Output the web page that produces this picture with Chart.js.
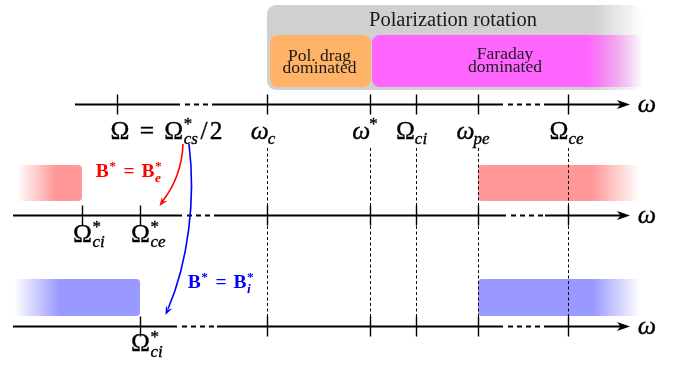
<!DOCTYPE html>
<html>
<head>
<meta charset="utf-8">
<script src="https://cdn.jsdelivr.net/npm/chart.js@4/dist/chart.umd.min.js"></script>
<style>
  html, body { margin: 0; padding: 0; background: #fff; }
  canvas { display: block; }
</style>
</head>
<body>
<canvas id="c" width="677" height="373"></canvas>
<script>
// Ordering of the characteristic frequencies along the ω axis (schematic units)
const sharedFreqs  = [267, 370, 416, 478, 568];
const sharedLabels = ['ω_{c}', 'ω^{*}', 'Ω_{ci}', 'ω_{pe}', 'Ω_{ce}'];

// Top axis: real plasma; middle: B* = B*_e; bottom: B* = B*_i
const topFreqs  = [117, ...sharedFreqs];
const topLabels = ['Ω = Ω^{*}_{cs}/2', ...sharedLabels];
const midFreqs  = [82, 140, ...sharedFreqs];
const midLabels = ['Ω^{*}_{ci}', 'Ω^{*}_{ce}'];
const botFreqs  = [140, ...sharedFreqs];
const botLabels = ['Ω^{*}_{ci}'];

// Rotation regimes above the top axis
const regimeNames = ['Polarization rotation', 'Pol. drag\ndominated', 'Faraday\ndominated'];
const regimeFrom  = [267, 267, 370];
const regimeTo    = [643, 370, 643];

// Frequency ranges marked on the rescaled axes
const stopBandsE = [[17, 82], [478, 640]];
const stopBandsI = [[14, 140], [478, 640]];

const mapLabelsE = ['B^{*} = B^{*}_{e}'];
const mapLabelsI = ['B^{*} = B^{*}_{i}'];

const SERIF = '"Liberation Serif", "DejaVu Serif", serif';

function parseMath(s) {
  const out = [];
  let i = 0;
  while (i < s.length) {
    const ch = s[i];
    if ((ch === '^' || ch === '_') && s[i + 1] === '{') {
      const j = s.indexOf('}', i);
      const txt = s.slice(i + 2, j);
      const last = out[out.length - 1];
      if (ch === '^') last.sup = txt; else last.sub = txt;
      i = j + 1;
    } else {
      out.push({ t: ch });
      i++;
    }
  }
  return out;
}

function fontFor(ch, size, bold) {
  const it = /[a-zω]/.test(ch);
  return (it ? 'italic ' : '') + (bold ? 'bold ' : '') + size + 'px ' + SERIF;
}

// extra side bearing (in em) for operators set in math mode
const PAD = { '/': 0.08 };

function strWidth(ctx, str, size, bold, space) {
  let w = 0;
  for (const ch of str) {
    if (ch === ' ') { w += size * space; continue; }
    ctx.font = fontFor(ch, size, bold);
    w += ctx.measureText(ch).width + 2 * (PAD[ch] || 0) * size;
  }
  return w;
}

function drawStr(ctx, str, x, y, size, bold, space, weight) {
  for (const ch of str) {
    if (ch === ' ') { x += size * space; continue; }
    const pad = (PAD[ch] || 0) * size;
    ctx.font = fontFor(ch, size, bold);
    ctx.fillText(ch, x + pad, y);
    if (weight) ctx.strokeText(ch, x + pad, y);
    x += ctx.measureText(ch).width + 2 * pad;
  }
  return x;
}

// Draws a math-like label; anchor 'center' centres the whole label,
// 'base' centres the first base glyph on x.
function drawMath(ctx, src, x, y, opt) {
  const size = opt.size, small = opt.small, bold = !!opt.bold, sp = opt.space || 0.3;
  const pieces = parseMath(src);
  const metrics = pieces.map(p => {
    const wb = strWidth(ctx, p.t, size, bold, sp);
    const ws = p.sup ? strWidth(ctx, p.sup, small, bold, sp) : 0;
    const wu = p.sub ? strWidth(ctx, p.sub, small, bold, sp) : 0;
    return { wb, ws, wu, w: wb + Math.max(ws, wu) + ((p.sup || p.sub) ? 1 : 0) };
  });
  const total = metrics.reduce((a, m) => a + m.w, 0);
  let cx = opt.anchor === 'base' ? x - metrics[0].wb / 2 : x - total / 2;
  ctx.fillStyle = opt.color || '#000';
  ctx.strokeStyle = opt.color || '#000';
  ctx.lineWidth = opt.weight || 0;
  ctx.textBaseline = 'alphabetic';
  ctx.textAlign = 'left';
  const wgt = opt.weight || 0;
  pieces.forEach((p, k) => {
    const m = metrics[k];
    drawStr(ctx, p.t, cx, y, size, bold, sp, wgt);
    const sx = cx + m.wb + (p.t === 'ω' ? -1 : 0.5);
    if (p.sup) drawStr(ctx, p.sup, sx, y - opt.supRise, small, bold, sp, wgt);
    if (p.sub) drawStr(ctx, p.sub, sx - (p.t === 'Ω' && !p.sup ? 0.5 : 0), y + opt.subDrop, small, bold, sp, wgt);
    cx += m.w;
  });
}

function stealth(ctx, tx, ty, dx, dy, len, half) {
  const n = Math.hypot(dx, dy); dx /= n; dy /= n;
  const px = -dy, py = dx;
  ctx.beginPath();
  ctx.moveTo(tx, ty);
  ctx.lineTo(tx - len * dx + half * px, ty - len * dy + half * py);
  ctx.lineTo(tx - (len - 3.5) * dx, ty - (len - 3.5) * dy);
  ctx.lineTo(tx - len * dx - half * px, ty - len * dy - half * py);
  ctx.closePath();
  ctx.fill();
}

function fadedBox(ctx, x0, x1, y0, y1, r, rgb, fullFrom, fullTo) {
  const g = ctx.createLinearGradient(x0, 0, x1, 0);
  const on = 'rgba(' + rgb + ',1)', off = 'rgba(' + rgb + ',0)';
  const f = v => Math.min(1, Math.max(0, (v - x0) / (x1 - x0)));
  if (fullFrom != null) { g.addColorStop(0, off); g.addColorStop(f(fullFrom), on); }
  else g.addColorStop(0, on);
  if (fullTo != null) { g.addColorStop(f(fullTo), on); g.addColorStop(1, off); }
  else g.addColorStop(1, on);
  ctx.fillStyle = g;
  ctx.beginPath();
  ctx.roundRect(x0, y0, x1 - x0, y1 - y0, r);
  ctx.fill();
}

const diagram = {
  id: 'diagram',
  afterDraw(chart) {
    const ctx = chart.ctx;
    const X = v => chart.scales.x.getPixelForValue(v);
    const Y = v => chart.scales.y.getPixelForValue(v);
    ctx.save();

    // --- regime banner ---
    fadedBox(ctx, X(regimeFrom[0]), X(regimeTo[0]), Y(5), Y(90), 9, '208,208,208', null, X(593));
    fadedBox(ctx, X(regimeFrom[1]) + 3, X(regimeTo[1]) + 1, Y(35), Y(87), 8, '255,179,102', null, null);
    fadedBox(ctx, X(regimeFrom[2]) + 2, X(regimeTo[2]), Y(35), Y(87), 8, '255,102,255', null, X(587));

    ctx.fillStyle = '#1a1a1a';
    ctx.textAlign = 'center';
    ctx.textBaseline = 'alphabetic';
    ctx.font = '20.5px ' + SERIF;
    ctx.fillText(regimeNames[0], 453, Y(26));
    ctx.font = '17.5px ' + SERIF;
    const drag = regimeNames[1].split('\n');
    const cxDrag = (X(regimeFrom[1]) + X(regimeTo[1])) / 2 + 1;
    ctx.fillText(drag[0], cxDrag, Y(60.5));
    ctx.fillText(drag[1], cxDrag, Y(73));
    const far = regimeNames[2].split('\n');
    ctx.fillText(far[0], 505, Y(59));
    ctx.fillText(far[1], 505, Y(72));

    // --- frequency ranges on the rescaled axes ---
    fadedBox(ctx, X(stopBandsE[0][0]), X(stopBandsE[0][1]), Y(165), Y(201), 4, '255,153,153', X(55), null);
    fadedBox(ctx, X(stopBandsE[1][0]), X(stopBandsE[1][1]), Y(165), Y(201), 4, '255,153,153', null, X(593));
    fadedBox(ctx, X(stopBandsI[0][0]), X(stopBandsI[0][1]), Y(279), Y(316), 4, '153,153,255', X(60), null);
    fadedBox(ctx, X(stopBandsI[1][0]), X(stopBandsI[1][1]), Y(279), Y(316), 4, '153,153,255', null, X(593));

    // --- dashed guides linking shared frequencies ---
    ctx.strokeStyle = '#000';
    ctx.lineWidth = 1;
    ctx.setLineDash([3, 2.5]);
    for (const f of sharedFreqs) {
      ctx.beginPath();
      ctx.moveTo(Math.round(X(f)) + 0.5, Y(148)); ctx.lineTo(Math.round(X(f)) + 0.5, Y(206));
      ctx.moveTo(Math.round(X(f)) + 0.5, Y(226)); ctx.lineTo(Math.round(X(f)) + 0.5, Y(317));
      ctx.stroke();
    }
    ctx.setLineDash([]);

    // --- the three ω axes ---
    const rows = [
      { y: 104.5, start: 75, breaks: [[180, 217], [503, 545]], ticks: topFreqs },
      { y: 215.5, start: 13, breaks: [[182, 217], [506, 545]], ticks: midFreqs },
      { y: 326.5, start: 13, breaks: [[177, 217], [503, 545]], ticks: botFreqs }
    ];
    const axisEnd = 630;
    rows.forEach(r => {
      const y = Y(r.y);
      ctx.strokeStyle = '#000';
      ctx.lineWidth = 1.8;
      let from = r.start;
      ctx.beginPath();
      for (const [a, b] of r.breaks) {
        ctx.moveTo(X(from), y); ctx.lineTo(X(a), y);
        from = b;
      }
      ctx.moveTo(X(from), y); ctx.lineTo(X(axisEnd) - 6, y);
      ctx.stroke();
      ctx.setLineDash([5, 4]);
      ctx.lineDashOffset = 5;
      ctx.beginPath();
      for (const [a, b] of r.breaks) { ctx.moveTo(X(a) + 1, y); ctx.lineTo(X(b), y); }
      ctx.stroke();
      ctx.setLineDash([]);
      ctx.lineDashOffset = 0;
      ctx.fillStyle = '#000';
      stealth(ctx, X(axisEnd), y, 1, 0, 13, 4.5);
      ctx.lineWidth = 1.4;
      ctx.beginPath();
      for (const t of r.ticks) {
        ctx.moveTo(Math.round(X(t)) + 0.5, y - 10);
        ctx.lineTo(Math.round(X(t)) + 0.5, y + 10);
      }
      ctx.stroke();
      drawMath(ctx, 'ω', X(axisEnd) + 17, y + 7.5, { size: 26, small: 17, supRise: 10, subDrop: 5.5, anchor: 'center', weight: 0.35 });
    });

    // --- tick labels ---
    const mopt = { size: 25.5, small: 17, supRise: 9.5, subDrop: 5.5, space: 0.4, weight: 0.35 };
    drawMath(ctx, topLabels[0], X(topFreqs[0]) + 49.5, Y(138.5), Object.assign({ anchor: 'center' }, mopt));
    const topShift = [-3, -4, -4, -4, -1];
    for (let i = 1; i < topLabels.length; i++) {
      drawMath(ctx, topLabels[i], X(topFreqs[i]) + topShift[i - 1], Y(138.5), Object.assign({ anchor: 'center' }, mopt));
    }
    midLabels.forEach((l, i) => drawMath(ctx, l, X(midFreqs[i]) + 0.5, Y(241.5), Object.assign({ anchor: 'base' }, mopt)));
    botLabels.forEach((l, i) => drawMath(ctx, l, X(botFreqs[i]) + 0.5, Y(351), Object.assign({ anchor: 'base' }, mopt)));

    // --- mapping arrows to the rescaled axes ---
    ctx.lineWidth = 1.6;
    ctx.strokeStyle = '#f00'; ctx.fillStyle = '#f00';
    ctx.beginPath();
    ctx.moveTo(X(183), Y(144));
    ctx.bezierCurveTo(X(182), Y(170), X(173), Y(188), X(162), Y(202));
    ctx.stroke();
    stealth(ctx, X(159.5), Y(206), -10, 14, 9, 3.5);
    const bopt = { size: 19.5, small: 13.5, supRise: 7.5, subDrop: 4.5, bold: true, anchor: 'center', space: 0.36 };
    drawMath(ctx, mapLabelsE[0], X(129), Y(177), Object.assign({ color: '#f00' }, bopt));

    ctx.lineWidth = 1.6;
    ctx.strokeStyle = '#00f'; ctx.fillStyle = '#00f';
    ctx.beginPath();
    ctx.moveTo(X(189), Y(144));
    ctx.bezierCurveTo(X(196), Y(200), X(188), Y(262), X(168), Y(309));
    ctx.stroke();
    stealth(ctx, X(165.5), Y(315), -8, 18, 9, 3.5);
    drawMath(ctx, mapLabelsI[0], X(221), Y(288), Object.assign({ color: '#00f' }, bopt));

    ctx.restore();
  }
};

new Chart(document.getElementById('c'), {
  type: 'scatter',
  data: { datasets: [] },
  options: {
    responsive: false,
    animation: false,
    events: [],
    layout: { padding: 0 },
    plugins: { legend: { display: false }, tooltip: { enabled: false } },
    scales: {
      x: { type: 'linear', min: 0, max: 677, display: false },
      y: { type: 'linear', min: 0, max: 373, reverse: true, display: false }
    }
  },
  plugins: [diagram]
});
</script>
</body>
</html>
